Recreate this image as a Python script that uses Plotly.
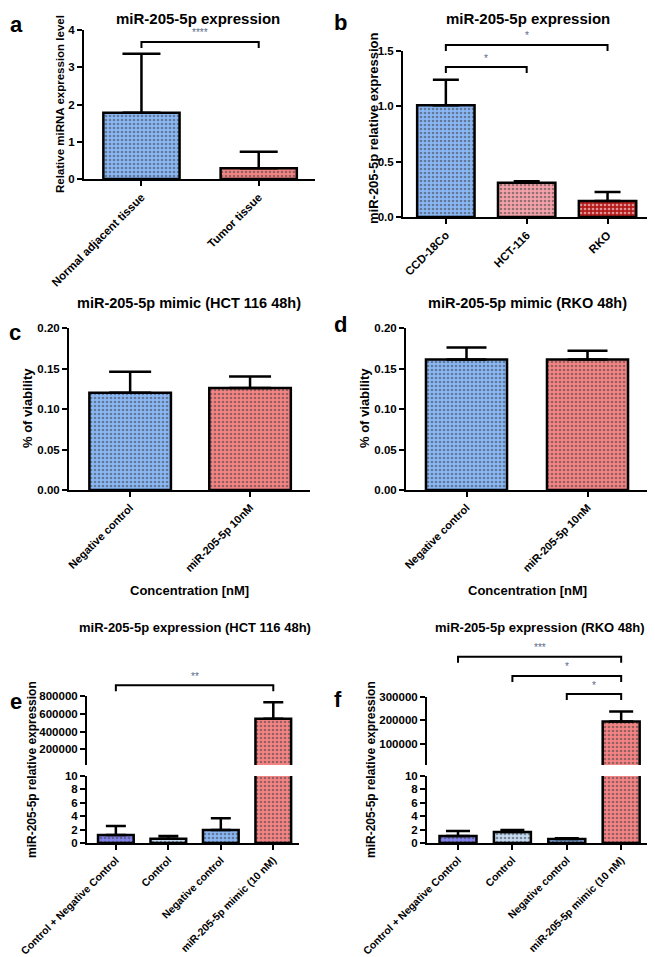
import plotly.graph_objects as go

# page is 655x957; the page body adds an 8px margin, so the figure is drawn 8px in
PAGE_W, PAGE_H = 655, 957
OFF = 8
W, H = PAGE_W - OFF, PAGE_H - OFF

# ---------------- data ----------------
a_cats = ["Normal adjacent tissue", "Tumor tissue"]
a_vals = [1.78, 0.29]
a_err = [1.58, 0.44]

b_cats = ["CCD-18Co", "HCT-116", "RKO"]
b_vals = [1.01, 0.31, 0.145]
b_err = [0.23, 0.012, 0.08]

c_cats = ["Negative control", "miR-205-5p 10nM"]
c_vals = [0.120, 0.126]
c_err = [0.026, 0.014]

d_cats = ["Negative control", "miR-205-5p 10nM"]
d_vals = [0.161, 0.161]
d_err = [0.015, 0.011]

e_cats = ["Control + Negative Control", "Control", "Negative control", "miR-205-5p mimic (10 nM)"]
e_vals = [1.2, 0.65, 1.95, 545000]
e_err = [1.35, 0.4, 1.75, 185000]

f_cats = ["Control + Negative Control", "Control", "Negative control", "miR-205-5p mimic (10 nM)"]
f_vals = [1.05, 1.64, 0.6, 195000]
f_err = [0.75, 0.3, 0.1, 43000]

# significance brackets: (from index, to index, level in data units, label)
a_brackets = [(0, 1, 3.68, "****")]
b_brackets = [(0, 1, 1.355, "*"), (0, 2, 1.555, "*")]
e_brackets = [(0, 3, 925000, "**")]
f_brackets = [(0, 3, 478000, "***"), (1, 3, 393000, "*"), (2, 3, 313000, "*")]

e_upper_ticks = [200000, 400000, 600000, 800000]
f_upper_ticks = [100000, 200000, 300000]
lower_ticks = [0, 2, 4, 6, 8, 10]

# ---------------- styling / geometry ----------------
BLUE, BLUE_D = "#8ab8f6", "#3f5f9c"
RED, RED_D = "#f68484", "#b96a6a"
PINK, PINK_D = "#f5a3aa", "#b98a8f"
DRED, DRED_D = "#b51a1a", "#6e1010"
PURP, PURP_D = "#8282ee", "#3a3aa0"
LBLUE, LBLUE_D = "#c6dbf4", "#8aa0c0"

FONT = "Liberation Sans, Arial, sans-serif"

# panel pixel geometry (page pixels): x0,x1 (plot left/right), y0,y1 (top/bottom), ranges
geo = {
    "a": dict(x0=84, x1=315, y0=30, y1=179, xr=[-0.49, 1.48], yr=[0, 4]),
    "b": dict(x0=403, x1=652, y0=51, y1=217, xr=[-0.53, 2.55], yr=[0, 1.5]),
    "c": dict(x0=69, x1=310, y0=328, y1=490, xr=[-0.51, 1.5], yr=[0, 0.2]),
    "d": dict(x0=406, x1=648, y0=328, y1=490, xr=[-0.5, 1.5], yr=[0, 0.2]),
    "e": dict(x0=87, x1=299, y0=776, y1=843, xr=[-0.55, 3.49], yr=[0, 10]),
    "eu": dict(x0=87, x1=299, y0=696, y1=765, xr=[-0.55, 3.49], yr=[0, 800000]),
    "f": dict(x0=427, x1=650, y0=776, y1=843, xr=[-0.57, 3.53], yr=[0, 10]),
    "fu": dict(x0=427, x1=650, y0=697, y1=765, xr=[-0.57, 3.53], yr=[0, 300000]),
}


def px_x(p):
    return (p - OFF) / W


def px_y(p):
    return 1 - (p - OFF) / H


def dx(g, v):
    x0, x1 = g["x0"], g["x1"]
    r0, r1 = g["xr"]
    return x0 + (v - r0) / (r1 - r0) * (x1 - x0)


def dy(g, v):
    y0, y1 = g["y0"], g["y1"]
    r0, r1 = g["yr"]
    return y1 - (v - r0) / (r1 - r0) * (y1 - y0)


fig = go.Figure()


def add_bars(cats, vals, errs, colors, fgs, xa, ya, width, capw):
    fig.add_trace(go.Bar(
        x=cats, y=vals, xaxis=xa, yaxis=ya, width=width,
        marker=dict(color=colors, line=dict(color="black", width=2.5),
                    pattern=dict(shape=".", size=4, solidity=0.35,
                                 fgcolor=fgs, fgopacity=0.55, fillmode="overlay")),
        error_y=dict(type="data", array=errs, arrayminus=[0] * len(errs),
                     symmetric=False, color="black", thickness=2.5, width=capw),
        showlegend=False, hoverinfo="skip",
    ))


add_bars(a_cats, a_vals, a_err, [BLUE, RED], [BLUE_D, RED_D], "x", "y", 0.65, 19)
add_bars(b_cats, b_vals, b_err, [BLUE, PINK, DRED], [BLUE_D, PINK_D, DRED_D], "x2", "y2", 0.71, 13)
add_bars(c_cats, c_vals, c_err, [BLUE, RED], [BLUE_D, RED_D], "x3", "y3", 0.68, 21)
add_bars(d_cats, d_vals, d_err, [BLUE, RED], [BLUE_D, RED_D], "x4", "y4", 0.67, 20)
e_cols = [PURP, LBLUE, BLUE, RED]
e_fgs = [PURP_D, LBLUE_D, BLUE_D, RED_D]
add_bars(e_cats, e_vals, e_err, e_cols, e_fgs, "x5", "y5", 0.68, 10)
add_bars(e_cats, e_vals, e_err, e_cols, e_fgs, "x5", "y6", 0.68, 10)
add_bars(f_cats, f_vals, f_err, e_cols, e_fgs, "x6", "y7", 0.68, 12)
add_bars(f_cats, f_vals, f_err, e_cols, e_fgs, "x6", "y8", 0.68, 12)

tickfont = dict(family=FONT, size=11.5, color="black", weight="bold")


def xaxis(g, anchor, size=10.5):
    return dict(domain=[px_x(g["x0"]), px_x(g["x1"])], range=g["xr"], anchor=anchor,
                type="category", showline=True, linewidth=2, linecolor="black",
                ticks="outside", ticklen=5, tickwidth=2, tickcolor="black",
                tickangle=-45, showgrid=False, zeroline=False, fixedrange=True,
                automargin=False,
                tickfont=dict(family=FONT, size=size, color="black", weight="bold"))


def yaxis(g, anchor, **kw):
    d = dict(domain=[px_y(g["y1"]), px_y(g["y0"])], range=g["yr"], anchor=anchor,
             showline=True, linewidth=2, linecolor="black", ticks="outside",
             ticklen=5, tickwidth=2, tickcolor="black", showgrid=False,
             zeroline=False, fixedrange=True, automargin=False, tickfont=tickfont)
    d.update(kw)
    return d


# upper segments start slightly above zero so the bar bottoms are clipped (axis break)
eu = dict(geo["eu"])
eu["yr"] = [25000, 800000]
fu = dict(geo["fu"])
fu["yr"] = [10000, 300000]

fig.update_layout(
    width=W, height=H, margin=dict(l=0, r=0, t=0, b=0, pad=0, autoexpand=False),
    paper_bgcolor="white", plot_bgcolor="rgba(0,0,0,0)",
    bargap=0.3, showlegend=False,
    xaxis=xaxis(geo["a"], "y", 11.5),
    yaxis=yaxis(geo["a"], "x", tickvals=[0, 1, 2, 3, 4]),
    xaxis2=xaxis(geo["b"], "y2", 11.5),
    yaxis2=yaxis(geo["b"], "x2", tickvals=[0, 0.5, 1.0, 1.5], tickformat=".1f"),
    xaxis3=xaxis(geo["c"], "y3", 11),
    yaxis3=yaxis(geo["c"], "x3", tickvals=[0, 0.05, 0.10, 0.15, 0.20], tickformat=".2f"),
    xaxis4=xaxis(geo["d"], "y4", 11),
    yaxis4=yaxis(geo["d"], "x4", tickvals=[0, 0.05, 0.10, 0.15, 0.20], tickformat=".2f"),
    xaxis5=xaxis(geo["e"], "y5", 10.5),
    yaxis5=yaxis(geo["e"], "x5", tickvals=lower_ticks),
    yaxis6=yaxis(eu, "x5", tickvals=e_upper_ticks, tickformat="d"),
    xaxis6=xaxis(geo["f"], "y7", 10.5),
    yaxis7=yaxis(geo["f"], "x6", tickvals=lower_ticks),
    yaxis8=yaxis(fu, "x6", tickvals=f_upper_ticks, tickformat="d"),
)

annotations = []
shapes = []


def text(px, py, s, size, bold=True, angle=0, color="black", xanchor="center", yanchor="middle"):
    annotations.append(dict(
        x=px_x(px), y=px_y(py), xref="paper", yref="paper", text=s, showarrow=False,
        xanchor=xanchor, yanchor=yanchor, textangle=angle,
        font=dict(family=FONT, size=size, color=color, weight="bold" if bold else "normal")))


# titles
text(198, OFF, "miR-205-5p expression", 15, yanchor="top")
text(528, OFF, "miR-205-5p expression", 15, yanchor="top")
text(189, 303, "miR-205-5p mimic (HCT 116 48h)", 14.5)
text(527, 303, "miR-205-5p mimic (RKO 48h)", 14.5)
text(195, 627, "miR-205-5p expression (HCT 116 48h)", 13)
text(540, 627, "miR-205-5p expression (RKO 48h)", 13)

# panel letters
text(16, 24, "a", 22)
text(340, 22, "b", 22)
text(15, 332, "c", 22)
text(340, 325, "d", 22)
text(OFF, 701, "e", 22, xanchor="left")
text(338, 699, "f", 22)

# axis titles
text(60, 104, "Relative miRNA expression level", 11.5, angle=-90)
text(373, 128, "miR-205-5p relative expression", 13, angle=-90)
text(28, 408, "% of viability", 13, angle=-90)
text(365, 408, "% of viability", 13, angle=-90)
text(32, 770, "miR-205-5p relative expression", 12, angle=-90)
text(371, 770, "miR-205-5p relative expression", 12, angle=-90)
text(190, 590, "Concentration [nM]", 13)
text(527, 590, "Concentration [nM]", 13)


def brackets(g, items, drop=6):
    for i, j, lev, lab in items:
        xa, xb = dx(g, i), dx(g, j)
        yl = dy(g, lev)
        shapes.append(dict(
            type="path", xref="paper", yref="paper",
            path=f"M {px_x(xa)} {px_y(yl + drop)} L {px_x(xa)} {px_y(yl)} "
                 f"L {px_x(xb)} {px_y(yl)} L {px_x(xb)} {px_y(yl + drop)}",
            line=dict(color="black", width=2)))
        text((xa + xb) / 2, yl - 9, lab, 10, bold=False, color="#5a6a8a")


brackets(geo["a"], a_brackets)
brackets(geo["b"], b_brackets)
brackets(geo["eu"], e_brackets)
brackets(geo["fu"], f_brackets)

fig.update_layout(annotations=annotations, shapes=shapes)

fig.write_html("out.html")
